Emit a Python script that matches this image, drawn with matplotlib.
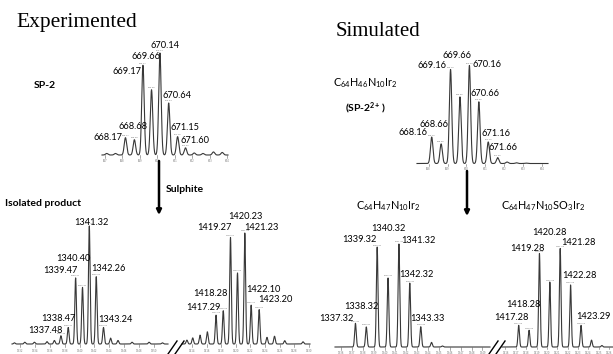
import numpy as np
import matplotlib
matplotlib.use("Agg")
import matplotlib.pyplot as plt

# ------------------------------------------------------------------ data
# Experimented SP-2 (doubly charged)
tl_mz = [668.17, 668.68, 669.17, 669.66, 670.14, 670.64, 671.15, 671.60]
tl_int = [17, 15, 88, 64, 100, 51, 18, 7]
tl_minor_mz = [667.1, 667.6, 672.1, 672.6, 673.2, 673.7]
tl_minor_int = [1.5, 1.5, 2, 1.5, 3, 2.5]
tl_ticks = [667, 668, 669, 670, 671, 672, 673, 674]

# Simulated SP-2 2+
tr_mz = [668.16, 668.66, 669.16, 669.66, 670.16, 670.66, 671.16, 671.66]
tr_int = [27, 20, 96, 68, 100, 63, 22, 6]
tr_minor_mz = [672.16, 672.66, 673.16]
tr_minor_int = [1.5, 0.7, 0.4]
tr_ticks = [668, 669, 670, 671, 672, 673, 674]

# Isolated product, experimented (two m/z windows)
el_mz = [1337.48, 1338.47, 1339.47, 1340.40, 1341.32, 1342.26, 1343.24]
el_int = [7, 14, 56, 48, 100, 57, 14]
el_minor_mz = [1331.2, 1332.6, 1333.9, 1335.6, 1336.6, 1344.2, 1345.2, 1347.1, 1349.4, 1351.2]
el_minor_int = [1.0, 1.5, 1.5, 2.0, 3.0, 5.0, 3.0, 1.5, 1.5, 1.0]
el_ticks = [1332, 1334, 1336, 1338, 1340, 1342, 1344, 1346, 1348, 1350]

er_mz = [1417.29, 1418.28, 1419.27, 1420.23, 1421.23, 1422.10, 1423.20]
er_int = [26, 30, 96, 64, 100, 35, 31]
er_minor_mz = [1413.3, 1414.1, 1415.1, 1416.1, 1424.27, 1425.3, 1426.7, 1429.2]
er_minor_int = [3.5, 5.5, 8, 11, 6, 7, 3, 2]
er_ticks = [1414, 1416, 1418, 1420, 1422, 1424, 1426, 1428, 1430]

# Simulated products
sl_mz = [1337.32, 1338.32, 1339.32, 1340.32, 1341.32, 1342.32, 1343.33]
sl_int = [23, 19.5, 97, 67, 100, 62, 19.7]
sl_minor_mz = [1344.32, 1345.32]
sl_minor_int = [4.5, 1.0]
sl_ticks = [1336, 1337, 1338, 1339, 1340, 1341, 1342, 1343, 1344, 1345, 1346, 1347, 1348, 1349]

sr_mz = [1417.28, 1418.28, 1419.28, 1420.28, 1421.28, 1422.28, 1423.29]
sr_int = [22, 17, 95, 66, 100, 63, 22]
sr_minor_mz = [1424.30, 1425.30]
sr_minor_int = [7, 1.5]
sr_ticks = [1416, 1417, 1418, 1419, 1420, 1421, 1422, 1423, 1424, 1425, 1426]

# ------------------------------------------------------------------ layout
W, H, DPI = 613, 354, 100
plt.rcParams["mathtext.fontset"] = "custom"
plt.rcParams["mathtext.rm"] = "Lato"
plt.rcParams["mathtext.bf"] = "Lato:bold"
plt.rcParams["mathtext.it"] = "Lato:italic"
LBL = dict(family="Lato", fontsize=6.7, color="black")
LINE = "#383838"

fig = plt.figure(figsize=(W / DPI, H / DPI), dpi=DPI)
fig.patch.set_facecolor("white")

YMIN = -12.0


def spectrum(x0, x1, ybase, ytop, xlim, mz, inten, mz2, int2, ticks,
             labels, offsets, sigma):
    """Axes placed by pixel box; intensity 0 at ybase, 100 at ytop."""
    scale = (ybase - ytop) / 100.0
    ybot = ybase - YMIN * scale
    ax = fig.add_axes([x0 / W, 1 - ybot / H, (x1 - x0) / W, (ybot - ytop) / H])
    ax.set_xlim(*xlim)
    ax.set_ylim(YMIN, 100)
    ax.axis("off")
    x = np.linspace(xlim[0], xlim[1], 6000)
    y = np.zeros_like(x)
    for m, h in zip(list(mz) + list(mz2), list(inten) + list(int2)):
        y += h * np.exp(-0.5 * ((x - m) / sigma) ** 2)
    ax.plot(x, y, color=LINE, lw=0.8, clip_on=False)
    # tick marks and tiny tick labels
    for t in ticks:
        if xlim[0] <= t <= xlim[1]:
            ax.plot([t, t], [0, -2.5], color="#666", lw=0.4)
            ax.text(t, -6, str(t), fontsize=1.8, color="#777",
                    ha="center", va="center")
    # tiny peak tags
    for m, h in zip(mz, inten):
        ax.text(m, h + 1.5, f"{m:.2f}", fontsize=1.6, color="#777",
                ha="center", va="bottom")
    # peak labels
    for m, h, lab, (dx, dy) in zip(mz, inten, labels, offsets):
        ax.annotate(lab, xy=(m, h), xytext=(dx, dy), textcoords="offset pixels",
                    ha="center", va="center", **LBL)
    return ax


def fmt(v):
    return [f"{m:.2f}" for m in v]


spectrum(102, 228, 155, 53, (666.83, 674.03), tl_mz, tl_int,
         tl_minor_mz, tl_minor_int, tl_ticks, fmt(tl_mz),
         [(-17, 0), (-1, 13), (-15.5, -6), (-6, 33), (5, 7), (8, 7), (7, 9), (10, 7)],
         0.07)
spectrum(417, 548, 163.5, 65.5, (667.38, 674.33), tr_mz, tr_int,
         tr_minor_mz, tr_minor_int, tr_ticks, fmt(tr_mz),
         [(-18.7, 4.5), (-7, 19), (-18.7, 4), (-3, 41.7), (17.7, 1), (6, 8), (7.3, 8.7), (5.3, 10)],
         0.065)
spectrum(12, 168, 344, 226, (1330.87, 1351.96), el_mz, el_int,
         el_minor_mz, el_minor_int, el_ticks, fmt(el_mz),
         [(-16, 5), (-10, 9), (-15, 7), (-9, 29), (2, 3), (12, 8), (12, 8)],
         0.11)
spectrum(182, 310, 344, 233, (1412.63, 1430.16), er_mz, er_int,
         er_minor_mz, er_minor_int, er_ticks, fmt(er_mz),
         [(-13, 8), (-13, 17), (-16.5, 9.5), (7.5, 56.5), (17, 5), (12.5, 16), (16, 10)],
         0.11)
spectrum(335, 490, 347, 244, (1335.44, 1349.7), sl_mz, sl_int,
         sl_minor_mz, sl_minor_int, sl_ticks, fmt(sl_mz),
         [(-18.7, 5), (-5, 20), (-17.5, 7.5), (0, 49.5), (19, 4), (7, 9), (7, 8)],
         0.075)
spectrum(502, 613, 347, 248.5, (1415.67, 1426.37), sr_mz, sr_int,
         sr_minor_mz, sr_minor_int, sr_ticks, fmt(sr_mz),
         [(-7, 7.5), (-6, 26), (-11.7, 5), (0, 49), (18, 6), (9, 9), (12.7, 9)],
         0.075)

# ------------------------------------------------------------------ overlay (pixel coords)
ov = fig.add_axes([0, 0, 1, 1], zorder=5)
ov.set_xlim(0, W)
ov.set_ylim(H, 0)
ov.axis("off")
ov.patch.set_alpha(0)

ov.text(77, 23, "Experimented", family="Liberation Serif", fontsize=15.5,
        ha="center", va="center")
ov.text(378, 32, "Simulated", family="Liberation Serif", fontsize=15,
        ha="center", va="center")

BOLD = dict(family="Lato", fontsize=7.5, fontweight="bold", ha="center", va="center")
REG = dict(family="Lato", fontsize=7.8, ha="center", va="center")
ov.text(45, 85, "SP-2", **BOLD)
ov.text(185, 189, "Sulphite", **BOLD)
ov.text(43, 203, "Isolated product", **BOLD)
ov.text(365, 83, r"C$_{64}$H$_{46}$N$_{10}$Ir$_{2}$", **REG)
ov.text(365, 108, r"(SP-2$^{\mathbf{2{+}}}$ )", **BOLD)
ov.text(388, 206, r"C$_{64}$H$_{47}$N$_{10}$Ir$_{2}$", **REG)
ov.text(543, 206, r"C$_{64}$H$_{47}$N$_{10}$SO$_{3}$Ir$_{2}$", **REG)

arrow = dict(arrowstyle="-|>", lw=1.8, color="black", mutation_scale=7,
             shrinkA=0, shrinkB=0)
ov.annotate("", xy=(159, 215), xytext=(159, 161), arrowprops=arrow)
ov.annotate("", xy=(467, 216), xytext=(467, 171), arrowprops=arrow)

# axis-break marks
for bx in (168, 175):
    ov.plot([bx, bx + 9], [354, 341], color="black", lw=1.0)
for bx in (489, 496):
    ov.plot([bx, bx + 9], [354, 341], color="black", lw=1.0)

fig.savefig("out.png", dpi=DPI)
